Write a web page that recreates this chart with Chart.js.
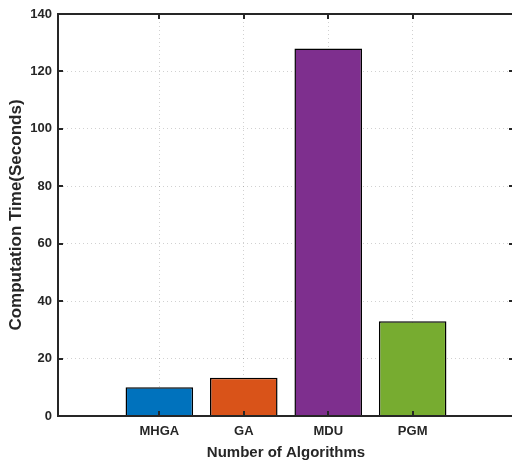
<!DOCTYPE html>
<html>
<head>
<meta charset="utf-8">
<script src="https://cdn.jsdelivr.net/npm/chart.js@4/dist/chart.umd.min.js"></script>
<style>
  html, body { margin: 0; background: #fff; overflow: hidden; }
  canvas { display: block; }
</style>
</head>
<body>
<canvas id="bar-chart" width="516" height="462"></canvas>
<script>
const algorithms = ['MHGA', 'GA', 'MDU', 'PGM'];
const positions = [1, 2, 3, 4];
const timeSeconds = [10, 13.3, 128, 33];
const yTicks = [0, 20, 40, 60, 80, 100, 120, 140];
const barColors = ['#0072BD', '#D95319', '#7E2F8E', '#77AC30'];

const axisColor = '#262626';

// matlab style box with inward ticks
const boxPlugin = {
	id: 'box',
	afterDraw(chart) {
		const c = chart.ctx;
		const a = chart.chartArea;
		const xs = chart.scales.x;
		const ys = chart.scales.y;
		c.save();
		c.strokeStyle = axisColor;
		c.lineWidth = 2;
		c.strokeRect(a.left, a.top, a.right - a.left, a.bottom - a.top);
		c.beginPath();
		yTicks.forEach(v => {
			const y = Math.round(ys.getPixelForValue(v));
			c.moveTo(a.left, y); c.lineTo(a.left + 5, y);
			c.moveTo(a.right, y); c.lineTo(a.right - 5, y);
		});
		positions.forEach(v => {
			const x = Math.round(xs.getPixelForValue(v));
			c.moveTo(x, a.bottom); c.lineTo(x, a.bottom - 5);
			c.moveTo(x, a.top); c.lineTo(x, a.top + 5);
		});
		c.stroke();
		c.restore();
	}
};

const ctx = document.querySelector('#bar-chart');
new Chart(ctx, {
	type: 'bar',
	data: {
		datasets: [
			{
				data: positions.map((p, i) => ({ x: p, y: timeSeconds[i] })),
				backgroundColor: barColors,
				borderColor: '#000000',
				borderWidth: 1.5,
				categoryPercentage: 1,
				barPercentage: 0.8
			}]
	},
	options: {
		responsive: false,
		animation: false,
		layout: {
			padding: { top: 14, right: 2, left: 0, bottom: 0 }
		},
		plugins: {
			legend: { display: false },
			tooltip: { enabled: false }
		},
		scales: {
			x: {
				type: 'linear',
				min: -0.2,
				max: 5.2,
				offset: false,
				afterBuildTicks: s => { s.ticks = positions.map(v => ({ value: v })); },
				afterFit: s => { s.height = 46; },
				ticks: {
					color: axisColor,
					padding: 8,
					maxRotation: 0,
					font: { family: 'Liberation Sans, Arial', size: 13, weight: 'bold' },
					callback: v => algorithms[Math.round(v) - 1]
				},
				grid: {
					offset: false,
					drawTicks: false,
					color: 'rgba(0,0,0,0.18)',
					lineWidth: 1
				},
				border: { display: true, color: axisColor, width: 2, dash: [1, 3] },
				title: {
					display: true,
					text: 'Number of Algorithms',
					color: axisColor,
					padding: { top: 0, bottom: 0 },
					font: { family: 'Liberation Sans, Arial', size: 15, weight: 'bold' }
				}
			},
			y: {
				min: 0,
				max: 140,
				afterBuildTicks: s => { s.ticks = yTicks.map(v => ({ value: v })); },
				afterFit: s => { s.width = 58; },
				ticks: {
					color: axisColor,
					padding: 6,
					font: { family: 'Liberation Sans, Arial', size: 13, weight: 'bold' }
				},
				grid: {
					drawTicks: false,
					color: 'rgba(0,0,0,0.18)',
					lineWidth: 1
				},
				border: { display: true, color: axisColor, width: 2, dash: [1, 3] },
				title: {
					display: true,
					text: 'Computation Time(Seconds)',
					color: axisColor,
					padding: { top: 6, bottom: 0 },
					font: { family: 'Liberation Sans, Arial', size: 17, weight: 'bold' }
				}
			}
		}
	},
	plugins: [boxPlugin]
});
</script>
</body>
</html>
